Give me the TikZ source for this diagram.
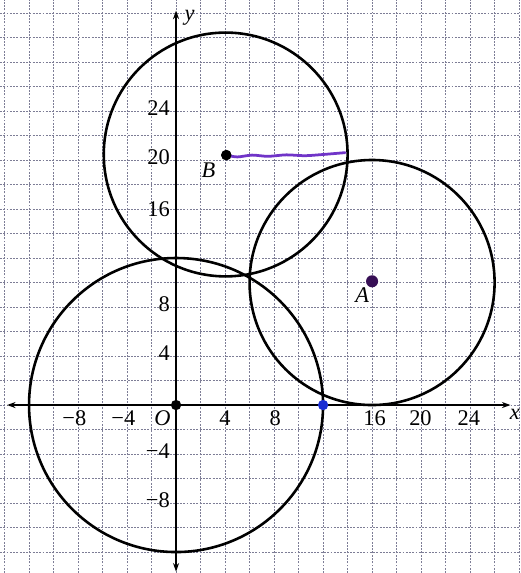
\documentclass[tikz,border=0pt]{standalone}
\usepackage{fontspec}
\setmainfont{Liberation Serif}
\usetikzlibrary{arrows.meta}
\definecolor{gridc}{RGB}{125,125,150}
\definecolor{pur}{RGB}{112,52,200}
\definecolor{adot}{RGB}{55,15,85}
\definecolor{bluedot}{RGB}{25,45,210}
\tikzset{
  gridline/.style={gridc, line width=0.5pt, dash pattern=on 1.1pt off 0.8pt},
  axisline/.style={black, line width=1.3pt, {Stealth[length=5pt,width=3.5pt]}-{Stealth[length=5pt,width=3.5pt]}},
  circline/.style={black, line width=1.5pt},
  dotnode/.style={circle, fill=#1, inner sep=0pt, minimum size=6pt},
  ticklab/.style={inner sep=1pt},
  ylab/.style={inner sep=1pt, anchor=east},
  purline/.style={pur, line width=1.6pt, line cap=round}
}
\begin{document}
\begin{tikzpicture}[x=0.25cm, y=0.25cm, font=\fontsize{13}{15}\selectfont]
\useasboundingbox (-14.37,-13.71) rectangle (28.08,33.06);
\fill[white] (-14.37,-13.71) rectangle (28.08,33.06);
% grid
\foreach \i in {-14,-12,...,28} \draw[gridline] (\i,-13.71) -- (\i,33.06);
\foreach \j in {-12,-10,...,32} \draw[gridline] (-14.37,\j) -- (28.08,\j);
% axes
\coordinate (xl) at (-13.8,0);
\coordinate (xr) at (27.3,0);
\coordinate (yb) at (0,-13.6);
\coordinate (yt) at (0,32.2);
\draw[axisline] (xl) -- (xr);
\draw[axisline] (yb) -- (yt);
\node[inner sep=0pt] (xlab) at (27.65,-0.75) {\itshape x};
\node (ylab) at (1.1,31.6) {\itshape y};
% circles
\draw[circline] (0,0) circle (12);
\draw[circline] (16,10) circle (10);
\draw[circline] (4.05,20.45) circle (9.95);
% tick labels
\node[ticklab] (tm8) at (-8.3,-1.05) {−8};
\node[ticklab] (tm4) at (-4.3,-1.05) {−4};
\node[ticklab] (tO) at (-1.1,-1.05) {\itshape O};
\node[ticklab] (t4) at (4,-1.05) {4};
\node[ticklab] (t8) at (8.1,-1.05) {8};
\node[ticklab] (t16) at (16.2,-1.05) {16};
\node[ticklab] (t20) at (19.95,-1.05) {20};
\node[ticklab] (t24) at (23.9,-1.05) {24};
\node[ylab] (y24) at (-0.35,24.2) {24};
\node[ylab] (y20) at (-0.35,20.2) {20};
\node[ylab] (y16) at (-0.35,16.0) {16};
\node[ylab] (y8) at (-0.35,8.2) {8};
\node[ylab] (y4) at (-0.35,4.2) {4};
\node[ylab] (ym4) at (-0.35,-3.8) {−4};
\node[ylab] (ym8) at (-0.35,-7.8) {−8};
% points
\coordinate (Bend) at (13.8,20.6);
\node[dotnode=black] (B) at (4.1,20.4) {};
\draw[purline] plot[smooth] coordinates {(B.center) (5,20.25) (6.2,20.4) (7.5,20.3) (9,20.42) (10.5,20.35) (12,20.45) (Bend)};
\node[dotnode=black] (B2) at (4.1,20.4) {};
\node[dotnode=black] (O) at (0,0) {};
\node[dotnode=bluedot] (P) at (12,0) {};
\node[dotnode=adot, minimum size=7pt] (A) at (16,10.1) {};
\node (Blab) at (2.65,19.2) {\itshape B};
\node (Alab) at (15.2,9.0) {\itshape A};
\end{tikzpicture}
\end{document}
